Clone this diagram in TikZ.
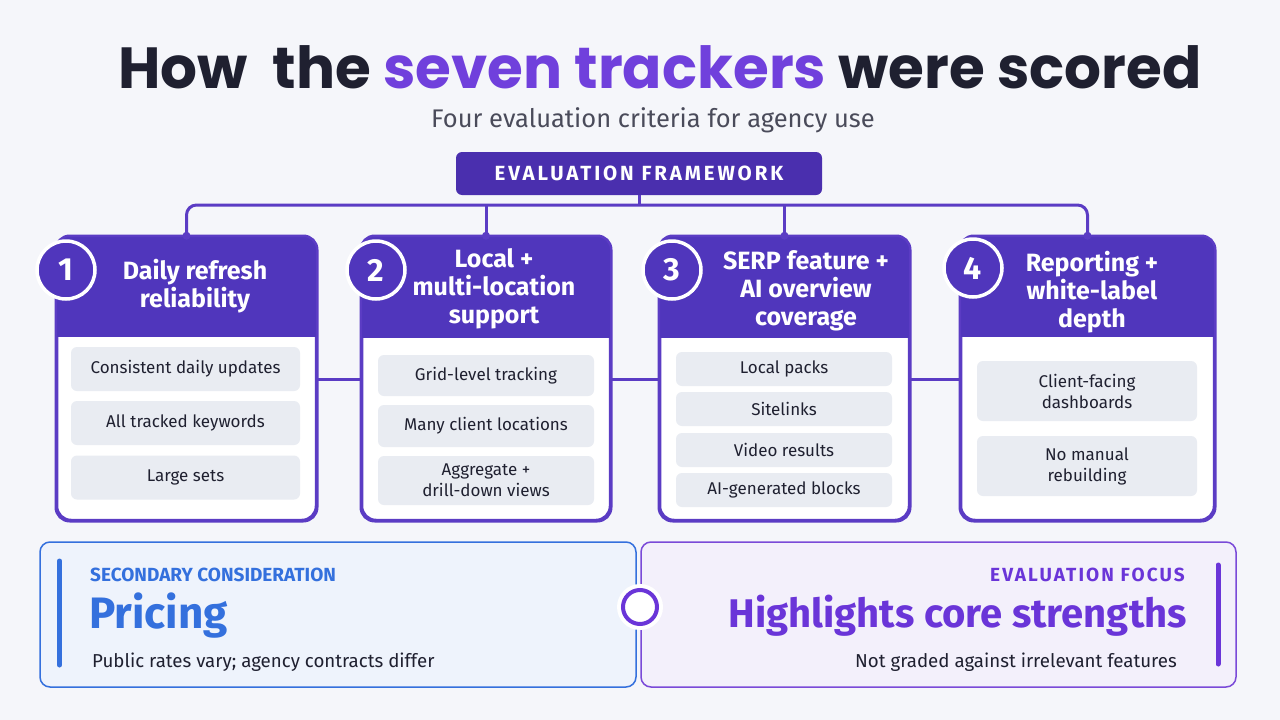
\documentclass[tikz,border=0pt]{standalone}
\usepackage{fontspec}
\setmainfont{Fira Sans}
\newfontfamily\titlefont{Poppins}
\newfontfamily\spacedfont{Fira Sans}[LetterSpace=14]
\newfontfamily\spacedfontb{Fira Sans}[LetterSpace=11]
\usetikzlibrary{calc}
\definecolor{bg}{HTML}{F5F6FA}
\definecolor{ink}{HTML}{1F2030}
\definecolor{tpurple}{HTML}{7040DC}
\definecolor{hdrc}{HTML}{4A2FAE}
\definecolor{cardp}{HTML}{5036BC}
\definecolor{linec}{HTML}{5B3CC4}
\definecolor{itemc}{HTML}{E9ECF2}
\definecolor{subc}{HTML}{4A4B5A}
\definecolor{blueA}{HTML}{3470DD}
\definecolor{bluefill}{HTML}{EEF3FC}
\definecolor{pfill}{HTML}{F3F0FB}
\definecolor{pborder}{HTML}{7A4AD8}
\definecolor{ptext}{HTML}{6A35D8}
\tikzset{
  cardbox/.style={draw=linec, line width=2.5pt, fill=white, rounded corners=14pt, inner sep=0pt},
  itembox/.style={fill=itemc, rounded corners=6pt, inner sep=0pt, align=center, font=\fontsize{17}{21}\selectfont, text=ink},
  conn/.style={draw=linec, line width=3pt},
  numc/.style={circle, fill=cardp, draw=white, line width=3.5pt, minimum size=58pt, inner sep=0pt, text=white, font=\bfseries\fontsize{32}{32}\selectfont},
  ctitle/.style={text=white, align=center, font=\bfseries\fontsize{25}{28}\selectfont},
  dotc/.style={circle, fill=linec, minimum size=8pt, inner sep=0pt},
}
\begin{document}
\begin{tikzpicture}[x=1pt,y=-1pt]
\fill[bg] (0,0) rectangle (1280,720);
\useasboundingbox (0,0) rectangle (1280,720);

% title
\node[anchor=base, inner sep=0pt, font=\titlefont\bfseries\fontsize{58}{58}\selectfont] (title) at (660,88)
  {\textcolor{ink}{How\ \ the}\ \textcolor{tpurple}{seven trackers}\ \textcolor{ink}{were scored}};
\node[anchor=base, inner sep=0pt, text=subc, font=\fontsize{25.5}{25.5}\selectfont] (subtitle) at (653,127)
  {Four evaluation criteria for agency use};

% header
\node[fill=hdrc, rounded corners=6pt, minimum width=366pt, minimum height=43pt, inner sep=0pt,
  text=white, font=\spacedfont\bfseries\fontsize{20.5}{20.5}\selectfont] (hdr) at (639,173.5) {EVALUATION FRAMEWORK};

% cards
\foreach \n/\cx/\w/\hb in {1/186.5/259/337, 2/486/248/338, 3/784.5/249/338, 4/1087.5/253/337}{
  \node[cardbox, minimum width=\w pt, minimum height=283pt] (c\n) at (\cx,378.5) {};
  \begin{scope}
    \clip[rounded corners=14pt] (c\n.north west) rectangle (c\n.south east);
    \fill[cardp] (c\n.north west) rectangle ($(c\n.east |- 0,\hb)$);
  \end{scope}
  \draw[draw=linec, line width=2.5pt, rounded corners=14pt] (c\n.north west) rectangle (c\n.south east);
}

% bus connectors
\coordinate (bus) at (639,205);
\draw[conn] (hdr.south) -- (hdr.south |- bus);
\draw[conn, rounded corners=10pt] (c1.north) -- (c1.north |- bus) -- (c4.north |- bus) -- (c4.north);
\draw[conn] (c2.north |- bus) -- (c2.north);
\draw[conn] (c3.north |- bus) -- (c3.north);
\foreach \n in {1,2,3,4}{ \node[dotc] (d\n) at (c\n.north) {}; }

% side connectors
\draw[conn] (c1.east |- 0,379) -- (c2.west |- 0,379);
\draw[conn] (c2.east |- 0,379) -- (c3.west |- 0,379);
\draw[conn] (c3.east |- 0,379) -- (c4.west |- 0,379);

% number circles
\node[numc] (n1) at (66,270) {1};
\node[numc] (n2) at (376,270) {2};
\node[numc] (n3) at (672,270) {3};
\node[numc] (n4) at (973,268) {4};

% card titles
\node[ctitle] (t1) at (195,286) {Daily refresh\\reliability};
\node[ctitle] (t2) at (494,289) {Local +\\multi-location\\support};
\node[ctitle] (t3) at (806,291) {SERP feature +\\AI overview\\coverage};
\node[ctitle] (t4) at (1092,292) {Reporting +\\white-label\\depth};

% items
\node[itembox, minimum width=229pt, minimum height=44pt] (i11) at (185.5,369) {Consistent daily updates};
\node[itembox, minimum width=229pt, minimum height=44pt] (i12) at (185.5,423) {All tracked keywords};
\node[itembox, minimum width=229pt, minimum height=44pt] (i13) at (185.5,477.5) {Large sets};

\node[itembox, minimum width=216pt, minimum height=41pt] (i21) at (486,375.5) {Grid-level tracking};
\node[itembox, minimum width=216pt, minimum height=42pt] (i22) at (486,426) {Many client locations};
\node[itembox, minimum width=216pt, minimum height=49pt] (i23) at (486,480.5) {Aggregate +\\drill-down views};

\node[itembox, minimum width=216pt, minimum height=34pt] (i31) at (784,369) {Local packs};
\node[itembox, minimum width=216pt, minimum height=34pt] (i32) at (784,409) {Sitelinks};
\node[itembox, minimum width=216pt, minimum height=34pt] (i33) at (784,450) {Video results};
\node[itembox, minimum width=216pt, minimum height=34pt] (i34) at (784,490) {AI-generated blocks};

\node[itembox, minimum width=220pt, minimum height=60pt] (i41) at (1087,391) {Client-facing\\dashboards};
\node[itembox, minimum width=220pt, minimum height=60pt] (i42) at (1087,466) {No manual\\rebuilding};

% bottom panels
\node[draw=blueA, fill=bluefill, line width=1.5pt, rounded corners=10pt, minimum width=596pt, minimum height=145pt, inner sep=0pt] (pl) at (338,614.5) {};
\node[draw=pborder, fill=pfill, line width=1.5pt, rounded corners=10pt, minimum width=595pt, minimum height=145pt, inner sep=0pt] (pr) at (938.5,614.5) {};
\draw[blueA, line width=5pt, line cap=round] (59.5,561) -- (59.5,665);
\draw[ptext, line width=5pt, line cap=round] (1218,565) -- (1218,664);

\node[anchor=base west, inner sep=0pt, text=blueA, font=\bfseries\fontsize{19}{19}\selectfont] (sl1) at (90,581) {SECONDARY CONSIDERATION};
\node[anchor=base west, inner sep=0pt, text=blueA, font=\bfseries\fontsize{44}{44}\selectfont] (sl2) at (89,628) {Pricing};
\node[anchor=base west, inner sep=0pt, text=ink, font=\fontsize{18.7}{18.7}\selectfont] (sl3) at (92,667) {Public rates vary; agency contracts differ};

\node[anchor=base east, inner sep=0pt, text=ptext, font=\spacedfontb\bfseries\fontsize{19}{19}\selectfont] (sr1) at (1185,581) {EVALUATION FOCUS};
\node[anchor=base east, inner sep=0pt, text=ptext, font=\bfseries\fontsize{40}{40}\selectfont] (sr2) at (1187,627) {Highlights core strengths};
\node[anchor=base east, inner sep=0pt, text=ink, font=\fontsize{18.7}{18.7}\selectfont] (sr3) at (1177,667) {Not graded against irrelevant features};

% middle ring
\node[circle, fill=white, minimum size=46pt, inner sep=0pt] (halo) at (640,607) {};
\node[circle, draw=ptext, fill=white, line width=4pt, minimum size=34pt, inner sep=0pt] (mid) at (640,607) {};
\end{tikzpicture}
\end{document}
